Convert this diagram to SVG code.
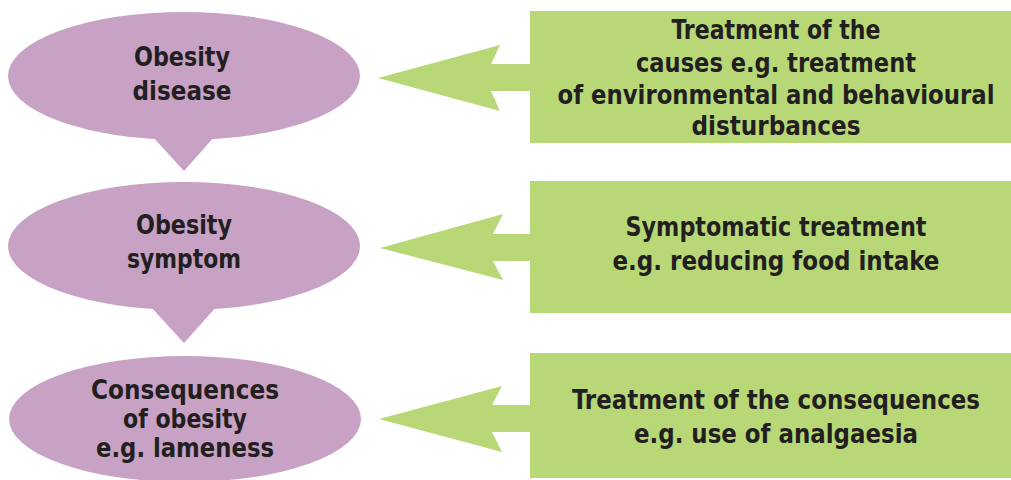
<svg xmlns="http://www.w3.org/2000/svg" width="1011" height="480" viewBox="0 0 1011 480">
<style>
.ell{fill:#C7A2C4}
.box{fill:#B8D878}
.arr{fill:#B8D878}
text{font-family:"DejaVu Sans Condensed","Liberation Sans",sans-serif;font-weight:bold;font-size:26px;fill:#231F20;text-anchor:middle}
</style>
<rect width="1011" height="480" fill="#ffffff"/>
<g id="node-obesity-disease">
<ellipse class="ell" cx="184" cy="76" rx="176" ry="64"/>
<polygon class="ell" points="152,136 215,136 184,171"/>
<text x="182" y="66" textLength="96" lengthAdjust="spacingAndGlyphs">Obesity</text>
<text x="182" y="100" textLength="99" lengthAdjust="spacingAndGlyphs">disease</text>
</g>
<g id="node-obesity-symptom">
<ellipse class="ell" cx="184" cy="246" rx="176" ry="64"/>
<polygon class="ell" points="150,306 217,306 184,343"/>
<text x="184" y="234" textLength="96" lengthAdjust="spacingAndGlyphs">Obesity</text>
<text x="184" y="268" textLength="114" lengthAdjust="spacingAndGlyphs">symptom</text>
</g>
<g id="node-consequences">
<ellipse class="ell" cx="185" cy="419" rx="176" ry="63"/>
<text x="185" y="399" textLength="188" lengthAdjust="spacingAndGlyphs">Consequences</text>
<text x="185" y="428" textLength="124" lengthAdjust="spacingAndGlyphs">of obesity</text>
<text x="185" y="457" textLength="178" lengthAdjust="spacingAndGlyphs">e.g. lameness</text>
</g>
<g id="node-treat-causes">
<rect class="box" x="530" y="11" width="481" height="132"/>
<text x="776" y="39" textLength="209" lengthAdjust="spacingAndGlyphs">Treatment of the</text>
<text x="776" y="72" textLength="280" lengthAdjust="spacingAndGlyphs">causes e.g. treatment</text>
<text x="776" y="104" textLength="437" lengthAdjust="spacingAndGlyphs">of environmental and behavioural</text>
<text x="776" y="135" textLength="169" lengthAdjust="spacingAndGlyphs">disturbances</text>
</g>
<g id="node-treat-symptom">
<rect class="box" x="530" y="181" width="481" height="132"/>
<text x="776" y="236" textLength="301" lengthAdjust="spacingAndGlyphs">Symptomatic treatment</text>
<text x="776" y="270" textLength="327" lengthAdjust="spacingAndGlyphs">e.g. reducing food intake</text>
</g>
<g id="node-treat-consequences">
<rect class="box" x="530" y="353" width="481" height="125"/>
<text x="776" y="409" textLength="408" lengthAdjust="spacingAndGlyphs">Treatment of the consequences</text>
<text x="776" y="443" textLength="284" lengthAdjust="spacingAndGlyphs">e.g. use of analgaesia</text>
</g>
<g id="connectors">
<polygon class="arr" points="378,78 500,45 491,64 531,64 531,91 491,91 500,111"/>
<polygon class="arr" points="380,248 503,214 493,234 531,234 531,261 493,261 503,280"/>
<polygon class="arr" points="379,419 502,386 492,405 531,405 531,432 492,432 502,452"/>
</g>
</svg>
